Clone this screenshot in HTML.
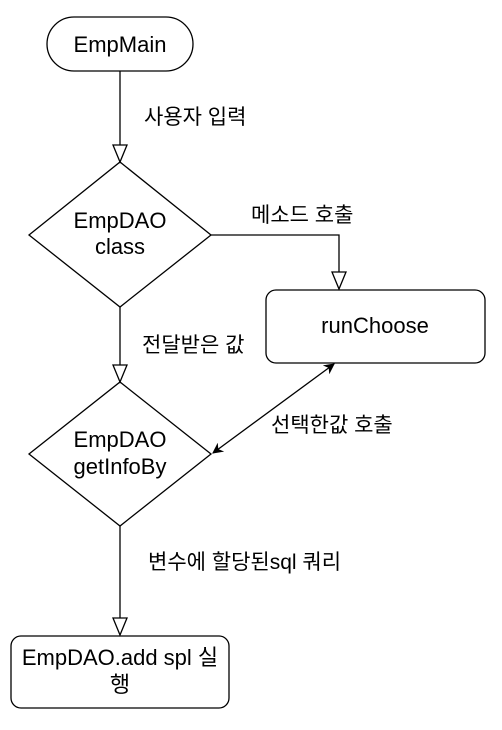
<!DOCTYPE html>
<html><head><meta charset="utf-8"><style>
body{margin:0;background:#fff}
svg text{font-family:"Liberation Sans","Noto Sans CJK KR",sans-serif;fill:#000}
</style></head><body>
<svg width="502" height="725" viewBox="0 0 502 725" xmlns="http://www.w3.org/2000/svg">
<defs>
<marker id="f" viewBox="0 0 10 10" refX="9" refY="5" markerWidth="11" markerHeight="11" markerUnits="userSpaceOnUse" orient="auto-start-reverse"><path d="M0,0 L10,5 L0,10 L3,5 Z" fill="#000"/></marker>
</defs>
<g fill="none" stroke="#000" stroke-width="1.3">
<rect x="47" y="17" width="146" height="54" rx="27"/>
<line x1="120" y1="71" x2="120" y2="145"/>
<path d="M113,145 L127,145 L120,162 Z" fill="#fff"/>
<path d="M120,162 L211,235 L120,307 L29,235 Z"/>
<path d="M211,235 L339,235 L339,272"/>
<path d="M332,272 L346,272 L339,289 Z" fill="#fff"/>
<rect x="266" y="290" width="219" height="73" rx="10"/>
<line x1="120" y1="307" x2="120" y2="365"/>
<path d="M113,365 L127,365 L120,382 Z" fill="#fff"/>
<path d="M120,382 L211,454 L120,526 L29,454 Z"/>
<line x1="213" y1="453" x2="334" y2="364" marker-start="url(#f)" marker-end="url(#f)"/>
<line x1="120" y1="526" x2="120" y2="618"/>
<path d="M113,618 L127,618 L120,635 Z" fill="#fff"/>
<rect x="11" y="636" width="218" height="72" rx="10"/>
</g>
<g font-size="22" text-anchor="middle">
<text x="120" y="52">EmpMain</text>
<text x="120" y="228">EmpDAO</text>
<text x="120" y="254">class</text>
<text x="375" y="333">runChoose</text>
<text x="120" y="447">EmpDAO</text>
<text x="120" y="474">getInfoBy</text>
<text x="120" y="665">EmpDAO.add spl 실</text>
<text x="120" y="692">행</text>
</g>
<g font-size="21">
<text x="144" y="124">사용자 입력</text>
<text x="251" y="222">메소드 호출</text>
<text x="142" y="352">전달받은 값</text>
<text x="271" y="432">선택한값 호출</text>
<text x="148" y="569">변수에 할당된sql 쿼리</text>
</g>
</svg>
</body></html>
